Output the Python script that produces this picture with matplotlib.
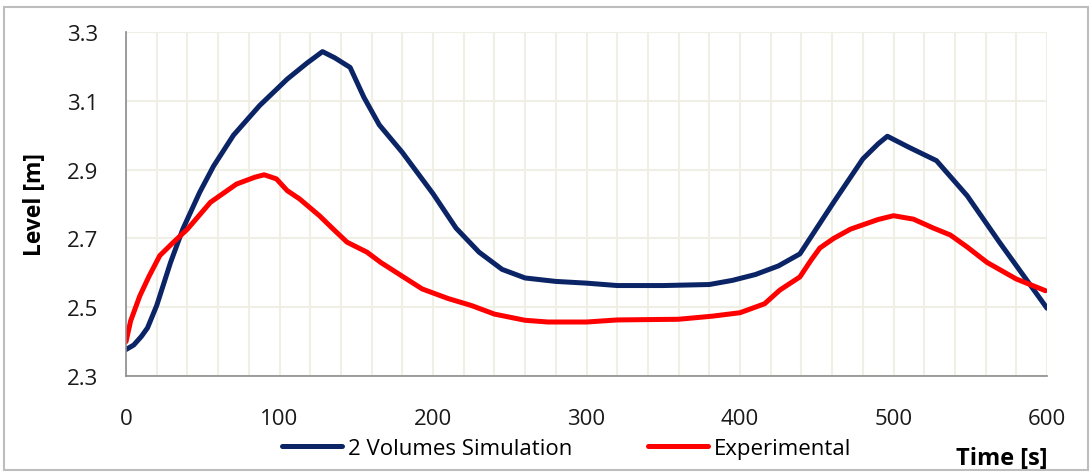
import matplotlib
matplotlib.use("Agg")
import matplotlib.pyplot as plt
from matplotlib.patches import Rectangle

plt.rcParams['font.family'] = ['Open Sans', 'DejaVu Sans']

sim_t = [0, 5, 10, 14, 20, 29, 37, 48, 57, 70, 87, 105, 118, 128, 136, 146, 155,
         165, 180, 200, 215, 230, 245, 260, 280, 300, 320, 350, 380, 395, 410, 425,
         439, 450, 461, 480, 490, 496, 510, 528, 548, 569, 585, 600]
sim_y = [2.377, 2.39, 2.415, 2.44, 2.505, 2.63, 2.727, 2.834, 2.91, 3.0, 3.086,
         3.163, 3.21, 3.243, 3.225, 3.197, 3.11, 3.03, 2.95, 2.83, 2.73, 2.66, 2.61,
         2.585, 2.575, 2.57, 2.563, 2.563, 2.566, 2.578, 2.595, 2.62, 2.655, 2.73,
         2.805, 2.931, 2.975, 2.997, 2.965, 2.926, 2.824, 2.689, 2.59, 2.497]

exp_t = [0, 3, 9, 15, 22, 30, 40, 55, 72, 84, 90, 98, 105, 113, 126, 135, 144, 157,
         166, 180, 193, 210, 225, 240, 260, 275, 300, 320, 360, 382, 400, 416, 426,
         439, 446, 452, 461, 472, 490, 500, 513, 526, 537, 548, 561, 580, 599]
exp_y = [2.40, 2.46, 2.533, 2.59, 2.65, 2.685, 2.727, 2.805, 2.858, 2.878, 2.885,
         2.873, 2.839, 2.815, 2.766, 2.727, 2.689, 2.66, 2.63, 2.59, 2.553, 2.525,
         2.505, 2.48, 2.462, 2.457, 2.457, 2.463, 2.465, 2.474, 2.484, 2.51, 2.55,
         2.588, 2.635, 2.672, 2.70, 2.727, 2.755, 2.766, 2.756, 2.73, 2.71, 2.675,
         2.63, 2.582, 2.548]

x_ticks = [0, 100, 200, 300, 400, 500, 600]
y_ticks = [2.3, 2.5, 2.7, 2.9, 3.1, 3.3]

fig = plt.figure(figsize=(10.92, 4.77), dpi=100)
ax = fig.add_axes([0.1154, 0.2096, 0.9588 - 0.1154, 0.9308 - 0.2096])

ax.set_xlim(0, 600)
ax.set_ylim(2.3, 3.3)
ax.set_xticks(x_ticks)
ax.set_yticks(y_ticks)
ax.set_xticks(range(0, 601, 20), minor=True)
ax.set_yticklabels([f"{v:.1f}" for v in y_ticks])
ax.grid(True, which='both', axis='x', color='#efefe6', linewidth=1.5)
ax.grid(True, which='major', axis='y', color='#efefe6', linewidth=1.5)
ax.set_axisbelow(True)
ax.tick_params(which='both', length=0, labelsize=16, colors='#1a1a1a')
ax.tick_params(axis='y', pad=20)
ax.tick_params(axis='x', pad=23)
for s in ['top', 'right']:
    ax.spines[s].set_visible(False)
for s in ['left', 'bottom']:
    ax.spines[s].set_color('#8c8c8c')
    ax.spines[s].set_linewidth(1.2)

l1, = ax.plot(sim_t, sim_y, color='#0b2466', linewidth=3.6, label='2 Volumes Simulation',
              solid_joinstyle='round', solid_capstyle='round')
l2, = ax.plot(exp_t, exp_y, color='#ff0000', linewidth=3.6, label='Experimental',
              solid_joinstyle='round', solid_capstyle='round')

fig.text(35 / 1092, 1 - 205 / 477, 'Level [m]', fontsize=16.5, fontweight='bold',
         rotation=90, ha='center', va='center')
fig.text(1047 / 1092, 1 - 459 / 477, 'Time [s]', fontsize=17, fontweight='bold',
         ha='right', va='center')

fig.legend(handles=[l1, l2], loc='center', bbox_to_anchor=(0.519, 0.0587), ncol=2,
           frameon=False, fontsize=16, handlelength=2.7, handletextpad=0.27,
           columnspacing=3.4, borderpad=0, borderaxespad=0)

fig.patches.append(Rectangle((0.0037, 0.012), 0.9927, 0.972, transform=fig.transFigure,
                             fill=False, edgecolor='#bdbdbd', linewidth=1.5))

fig.savefig('out.png', dpi=100)
